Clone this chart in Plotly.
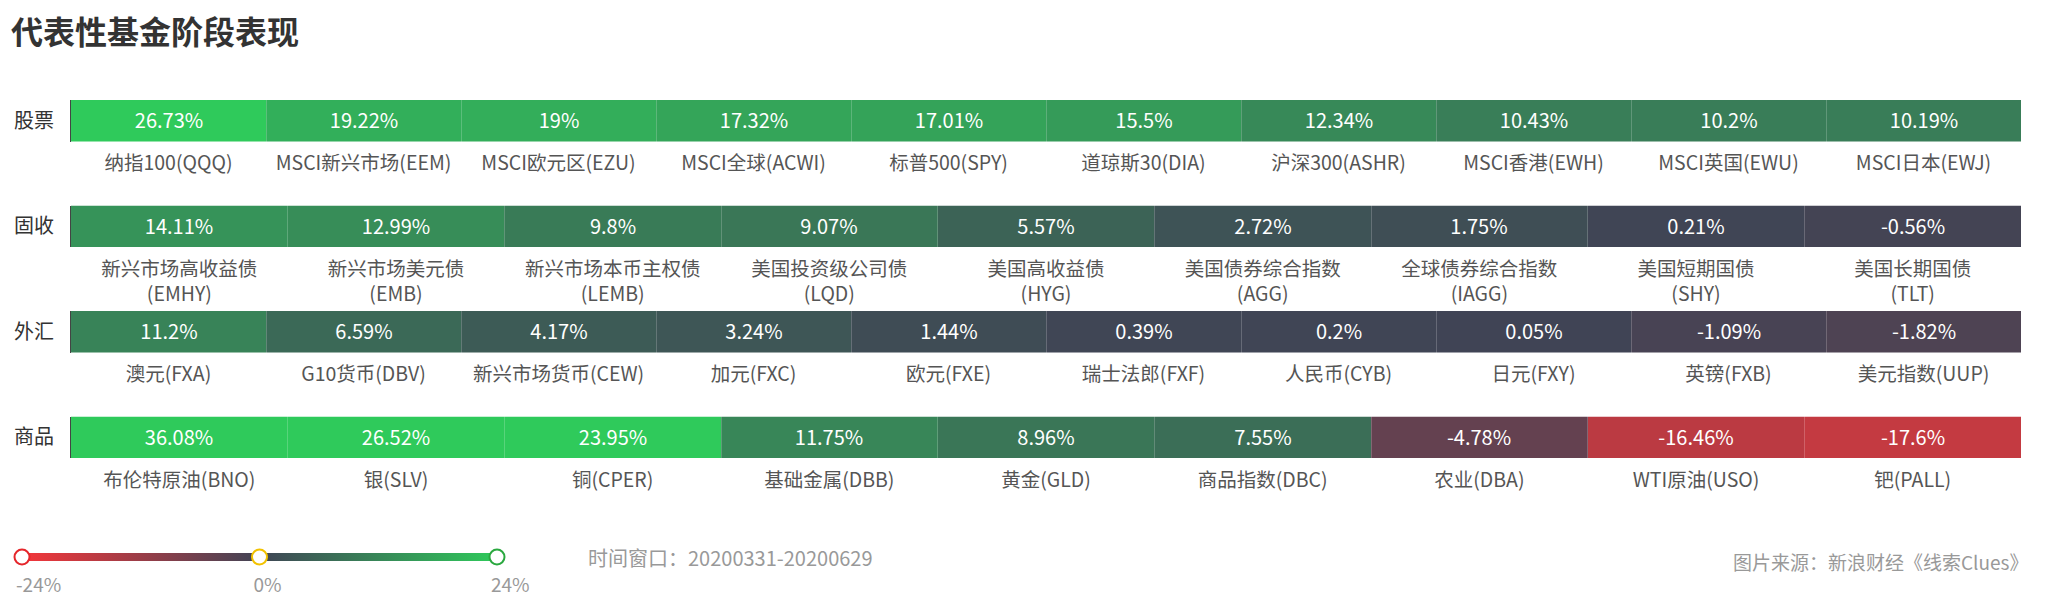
import plotly.graph_objects as go

# ---------------- data ----------------
title_text = "代表性基金阶段表现"
row_names = ["股票", "固收", "外汇", "商品"]

equity_names = ["纳指100(QQQ)", "MSCI新兴市场(EEM)", "MSCI欧元区(EZU)", "MSCI全球(ACWI)", "标普500(SPY)",
                "道琼斯30(DIA)", "沪深300(ASHR)", "MSCI香港(EWH)", "MSCI英国(EWU)", "MSCI日本(EWJ)"]
equity_values = [26.73, 19.22, 19, 17.32, 17.01, 15.5, 12.34, 10.43, 10.2, 10.19]

bond_names = ["新兴市场高收益债<br>(EMHY)", "新兴市场美元债<br>(EMB)", "新兴市场本币主权债<br>(LEMB)",
              "美国投资级公司债<br>(LQD)", "美国高收益债<br>(HYG)", "美国债券综合指数<br>(AGG)",
              "全球债券综合指数<br>(IAGG)", "美国短期国债<br>(SHY)", "美国长期国债<br>(TLT)"]
bond_values = [14.11, 12.99, 9.8, 9.07, 5.57, 2.72, 1.75, 0.21, -0.56]

fx_names = ["澳元(FXA)", "G10货币(DBV)", "新兴市场货币(CEW)", "加元(FXC)", "欧元(FXE)",
            "瑞士法郎(FXF)", "人民币(CYB)", "日元(FXY)", "英镑(FXB)", "美元指数(UUP)"]
fx_values = [11.2, 6.59, 4.17, 3.24, 1.44, 0.39, 0.2, 0.05, -1.09, -1.82]

commodity_names = ["布伦特原油(BNO)", "银(SLV)", "铜(CPER)", "基础金属(DBB)", "黄金(GLD)",
                   "商品指数(DBC)", "农业(DBA)", "WTI原油(USO)", "钯(PALL)"]
commodity_values = [36.08, 26.52, 23.95, 11.75, 8.96, 7.55, -4.78, -16.46, -17.6]

scale_ticks = [-24, 0, 24]
scale_marker_colors = ["#e5262b", "#f2c200", "#2aa83f"]
time_window_text = "时间窗口：20200331-20200629"
source_text = "图片来源：新浪财经《线索Clues》"

# ---------------- styling / layout ----------------
PAGE_W, PAGE_H = 2048, 610
OFF = 8                      # default page (body) margin of the html file
FW, FH = PAGE_W - OFF, PAGE_H - OFF
FONT = "Noto Sans CJK SC"
colorscale = [[0.0, "rgb(244,54,58)"], [0.5, "rgb(64,68,85)"], [1.0, "rgb(47,202,91)"]]


def px(x):   # page pixel -> paper x
    return (x - OFF) / FW


def py(y):   # page pixel -> paper y
    return 1 - (y - OFF) / FH


rows = [
    (row_names[0], equity_names, equity_values),
    (row_names[1], bond_names, bond_values),
    (row_names[2], fx_names, fx_values),
    (row_names[3], commodity_names, commodity_values),
]
row_tops = [100, 205.5, 311, 416.5]
bar_h = 41.5
bar_left, bar_right = 71, 2021
leg_left, leg_right, leg_y, leg_thick, leg_box = 22, 497, 557, 8, 30

fig = go.Figure()
layout = dict(
    width=FW, height=FH, autosize=False,
    margin=dict(l=0, r=0, t=0, b=0, autoexpand=False),
    paper_bgcolor="white", plot_bgcolor="white",
    showlegend=False,
    font=dict(family=FONT, color="#333"),
    coloraxis=dict(cmin=-24, cmax=24, colorscale=colorscale, showscale=False),
)

for i, (rname, names, values) in enumerate(rows):
    k = i + 1
    xa = "x" if k == 1 else f"x{k}"
    ya = "y" if k == 1 else f"y{k}"
    n = len(values)
    fig.add_trace(go.Heatmap(
        z=[values], x=list(range(n)), y=[0],
        coloraxis="coloraxis",
        text=[[f"{v:g}%" for v in values]], texttemplate="%{text}",
        textfont=dict(size=20, color="white", family=FONT),
        hoverinfo="skip", xaxis=xa, yaxis=ya,
    ))
    top = row_tops[i]
    layout["xaxis" if k == 1 else f"xaxis{k}"] = dict(
        domain=[px(bar_left), px(bar_right)], anchor=ya,
        range=[-0.5, n - 0.5], tickmode="array", tickvals=list(range(n)), ticktext=names,
        ticks="", showgrid=False, zeroline=False, showline=False,
        tickfont=dict(size=19.5, color="#555", family=FONT), ticklabelstandoff=8,
        layer="above traces", fixedrange=True, automargin=False,
        minor=dict(tickmode="array", tickvals=[j + 0.5 for j in range(n - 1)], ticks="inside",
                   ticklen=42, tickwidth=1, tickcolor="rgba(255,255,255,0.2)", showgrid=False),
    )
    layout["yaxis" if k == 1 else f"yaxis{k}"] = dict(
        domain=[py(top + bar_h), py(top)], anchor=xa,
        range=[-0.5, 0.5], tickmode="array", tickvals=[0], ticktext=[rname],
        ticks="", showgrid=False, zeroline=False,
        showline=True, linecolor="#444", linewidth=1,
        tickfont=dict(size=20, color="#333", family=FONT), ticklabelstandoff=12,
        layer="above traces", fixedrange=True, automargin=False,
    )

# colour-scale legend: gradient swatch spanning the scale, circles on top
lo, hi = min(scale_ticks), max(scale_ticks)
half = leg_thick / leg_box          # half thickness in y-axis units (axis range is [-1, 1])
fig.add_trace(go.Scatter(
    x=[lo, hi, hi, lo, lo], y=[-half, -half, half, half, -half], mode="lines",
    fill="toself", fillgradient=dict(type="horizontal", colorscale=colorscale),
    line=dict(width=0), hoverinfo="skip", xaxis="x5", yaxis="y5",
))
fig.add_trace(go.Scatter(
    x=scale_ticks, y=[0] * len(scale_ticks), mode="markers",
    marker=dict(size=15, color="white", line=dict(width=2, color=scale_marker_colors)),
    hoverinfo="skip", cliponaxis=False, xaxis="x5", yaxis="y5",
))
layout["xaxis5"] = dict(
    domain=[px(leg_left), px(leg_right)], anchor="y5", range=[lo, hi],
    tickmode="array", tickvals=scale_ticks, ticktext=[f"{t}%" for t in scale_ticks],
    ticks="", showgrid=False, zeroline=False, showline=False,
    ticklabelposition="outside right", ticklabelshift=-6, ticklabelstandoff=0,
    tickfont=dict(size=19, color="#999", family=FONT), fixedrange=True, automargin=False,
)
layout["yaxis5"] = dict(domain=[py(leg_y + leg_box / 2), py(leg_y - leg_box / 2)], anchor="x5",
                        range=[-1, 1], visible=False, fixedrange=True)

layout["annotations"] = [
    dict(text=f"<b>{title_text}</b>", x=px(9), y=py(30), xref="paper", yref="paper",
         xanchor="left", yanchor="middle", showarrow=False, font=dict(size=32, color="#333", family=FONT)),
    dict(text=time_window_text, x=px(586), y=py(557), xref="paper", yref="paper",
         xanchor="left", yanchor="middle", showarrow=False, font=dict(size=20, color="#999", family=FONT)),
    dict(text=source_text, x=px(2030), y=py(561), xref="paper", yref="paper",
         xanchor="right", yanchor="middle", showarrow=False, font=dict(size=19, color="#999", family=FONT)),
]

fig.update_layout(**layout)
fig.write_html("out.html", config={"displayModeBar": False})
